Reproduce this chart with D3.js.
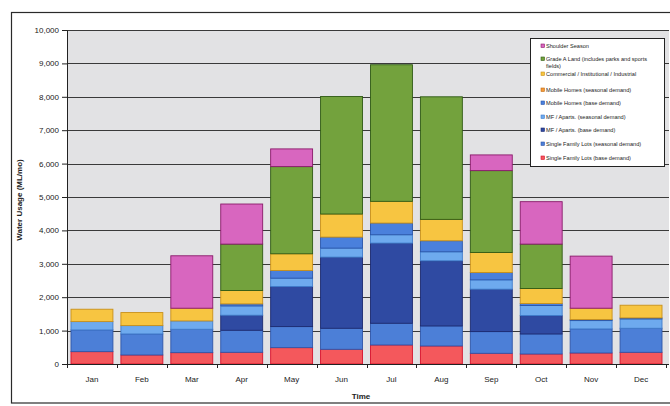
<!DOCTYPE html>
<html>
<head>
<meta charset="utf-8">
<script src="https://cdn.jsdelivr.net/npm/d3@7/dist/d3.min.js"></script>
<style>
  html, body { margin: 0; padding: 0; background: #ffffff; }
  svg { display: block; font-family: "Liberation Sans", Arial, sans-serif; }
</style>
</head>
<body>
<svg id="chart" width="670" height="406"></svg>
<script>
// Monthly water usage (ML/mo), stacked by demand type, bottom to top
const months = ["Jan","Feb","Mar","Apr","May","Jun","Jul","Aug","Sep","Oct","Nov","Dec"];

const sfBase       = [370, 270, 340, 350, 490, 440, 570, 540, 320, 300, 330, 350];
const sfSeasonal   = [650, 630, 700, 660, 630, 630, 650, 600, 650, 600, 720, 720];
const mfBase       = [0, 0, 0, 450, 1200, 2130, 2400, 1950, 1270, 550, 0, 0];
const mfSeasonal   = [250, 250, 250, 280, 250, 270, 250, 270, 280, 300, 250, 280];
const mhBase       = [0, 0, 0, 60, 230, 330, 350, 330, 220, 60, 30, 30];
const mhSeasonal   = [0, 0, 0, 0, 0, 0, 0, 0, 0, 0, 0, 0];
const commercial   = [370, 390, 380, 400, 500, 690, 650, 640, 600, 450, 340, 380];
const gradeA       = [0, 0, 0, 1390, 2610, 3520, 4090, 3670, 2450, 1330, 0, 0];
const shoulder     = [0, 0, 1570, 1200, 530, 0, 0, 0, 470, 1270, 1560, 0];

const seriesKeys = ["sfBase","sfSeasonal","mfBase","mfSeasonal","mhBase","mhSeasonal","commercial","gradeA","shoulder"];
const seriesLabels = [
  "Single Family Lots (base demand)",
  "Single Family Lots (seasonal demand)",
  "MF / Aparts. (base demand)",
  "MF / Aparts. (seasonal demand)",
  "Mobile Homes (base demand)",
  "Mobile Homes (seasonal demand)",
  "Commercial / Institutional / Industrial",
  "Grade A Land (includes parks and sports fields)",
  "Shoulder Season"
];
const seriesValues = [sfBase, sfSeasonal, mfBase, mfSeasonal, mhBase, mhSeasonal, commercial, gradeA, shoulder];
const seriesFill   = ["#f4585c","#4c7fd7","#2f4aa2","#6eaaee","#4a80dc","#f59a3a","#f7c541","#73a23d","#d866bf"];
const seriesStroke = ["#d8102c","#2f56a8","#1c2a70","#3f7ccc","#2a56aa","#c06a10","#c8901a","#2f5a14","#8a1a6a"];

const yTicks = [0,1000,2000,3000,4000,5000,6000,7000,8000,9000,10000];

// Table for d3.stack
const table = months.map((m, i) => {
  const row = { month: m };
  seriesKeys.forEach((k, j) => { row[k] = seriesValues[j][i]; });
  return row;
});

const svg = d3.select("#chart");

// outer frame
svg.append("rect")
  .attr("x", 11.5).attr("y", 12.5)
  .attr("width", 700).attr("height", 390.5)
  .attr("fill", "none").attr("stroke", "#2a2a2a").attr("stroke-width", 1.2);

const plot = { left: 67, right: 667, top: 30, bottom: 364 };

const x = d3.scaleBand()
  .domain(months)
  .range([plot.left, 666])
  .paddingInner(0.16)
  .paddingOuter(0.08);

const y = d3.scaleLinear()
  .domain([0, 10000])
  .range([plot.bottom, plot.top]);

// plot background
svg.append("rect")
  .attr("x", plot.left).attr("y", plot.top)
  .attr("width", plot.right - plot.left + 2).attr("height", plot.bottom - plot.top)
  .attr("fill", "#e2e2e4");

// gridlines
svg.append("g")
  .selectAll("line")
  .data(yTicks.filter(d => d > 0))
  .join("line")
  .attr("x1", plot.left).attr("x2", plot.right + 2)
  .attr("y1", d => Math.round(y(d)) + 0.5).attr("y2", d => Math.round(y(d)) + 0.5)
  .attr("stroke", "#3a3a3a").attr("stroke-width", 1);

// stacked bars
const stacked = d3.stack().keys(seriesKeys)(table);

svg.append("g")
  .selectAll("g")
  .data(stacked)
  .join("g")
  .attr("fill", (d, i) => seriesFill[i])
  .attr("stroke", (d, i) => seriesStroke[i])
  .attr("stroke-width", 0.9)
  .selectAll("rect")
  .data(d => d.filter(s => s[1] - s[0] > 0))
  .join("rect")
  .attr("x", d => x(d.data.month))
  .attr("width", x.bandwidth())
  .attr("y", d => y(d[1]))
  .attr("height", d => y(d[0]) - y(d[1]));

// y axis
const yAxis = d3.axisLeft(y)
  .tickValues(yTicks)
  .tickFormat(d3.format(","))
  .tickSize(5)
  .tickPadding(3);

const gy = svg.append("g")
  .attr("transform", `translate(${plot.left},0)`)
  .call(yAxis);
gy.select(".domain").attr("stroke", "#222");
gy.selectAll(".tick line").attr("stroke", "#222");
gy.selectAll(".tick text")
  .attr("font-size", 8).attr("fill", "#222")
  .attr("font-family", "Liberation Sans, Arial, sans-serif");

// x axis
const xAxis = d3.axisBottom(x).tickSize(0).tickPadding(12);
const gx = svg.append("g")
  .attr("transform", `translate(0,${plot.bottom})`)
  .call(xAxis);
gx.select(".domain").remove();
gx.selectAll(".tick text")
  .attr("font-size", 8).attr("fill", "#222")
  .attr("font-family", "Liberation Sans, Arial, sans-serif");

svg.append("line")
  .attr("x1", plot.left).attr("x2", plot.right + 2)
  .attr("y1", plot.bottom + 0.5).attr("y2", plot.bottom + 0.5)
  .attr("stroke", "#222");

// band boundary ticks
const boundaries = months.map(m => x(m) - x.step() * x.paddingInner() / 2).concat([666]);
svg.append("g")
  .selectAll("line")
  .data(boundaries)
  .join("line")
  .attr("x1", d => Math.round(d) + 0.5).attr("x2", d => Math.round(d) + 0.5)
  .attr("y1", plot.bottom).attr("y2", plot.bottom + 4)
  .attr("stroke", "#222");

// axis titles
svg.append("text")
  .attr("x", 361).attr("y", 399)
  .attr("text-anchor", "middle")
  .attr("font-size", 8).attr("font-weight", "bold").attr("fill", "#222")
  .text("Time");

svg.append("text")
  .attr("transform", "translate(22,200) rotate(-90)")
  .attr("text-anchor", "middle")
  .attr("font-size", 8).attr("font-weight", "bold").attr("fill", "#222")
  .text("Water Usage (ML/mo)");

// legend (top series first)
const legend = svg.append("g");
legend.append("rect")
  .attr("x", 530.5).attr("y", 38.5)
  .attr("width", 134).attr("height", 128)
  .attr("fill", "#ffffff").attr("stroke", "#222").attr("stroke-width", 1);

const legendRows = [46, 59, 74, 90, 103, 117, 130, 144, 158];
const legendOrder = d3.range(seriesKeys.length).reverse();

legendOrder.forEach((si, r) => {
  const cy = legendRows[r];
  legend.append("rect")
    .attr("x", 541).attr("y", cy - 2)
    .attr("width", 3.5).attr("height", 3.5)
    .attr("fill", seriesFill[si]).attr("stroke", seriesStroke[si]).attr("stroke-width", 0.6);
  const label = seriesLabels[si];
  const t = legend.append("text")
    .attr("x", 546).attr("y", cy + 2)
    .attr("font-size", 5.6).attr("fill", "#222");
  if (label.startsWith("Grade A")) {
    t.append("tspan").attr("x", 546).text("Grade A Land (includes parks and sports");
    t.append("tspan").attr("x", 546).attr("dy", 6.5).text("fields)");
  } else {
    t.text(label);
  }
});
</script>
</body>
</html>
